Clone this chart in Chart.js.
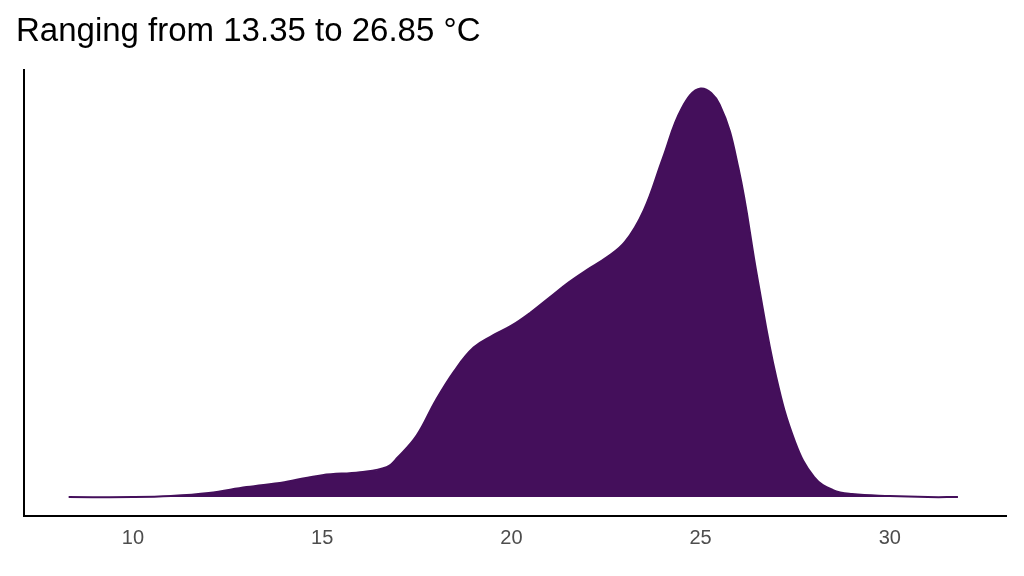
<!DOCTYPE html>
<html>
<head>
<meta charset="utf-8">
<script src="https://cdn.jsdelivr.net/npm/chart.js@4/dist/chart.umd.min.js"></script>
<style>
  html, body { margin: 0; padding: 0; background: #fff; }
  #wrap { width: 1024px; height: 576px; }
</style>
</head>
<body>
<div id="wrap"><canvas id="densityChart" width="1024" height="576"></canvas></div>
<script>
// temperature (°C) and estimated density (relative height)
const temps = [8.3, 10, 11, 12, 13, 14, 15, 16, 16.7, 17, 17.5, 18, 18.5, 19, 19.5, 20, 20.5, 21, 21.5, 22, 22.5, 23, 23.5, 24, 24.5, 25, 25.5, 26, 26.5, 27, 27.5, 28, 28.5, 29, 30, 31, 31.8];
const density = [0, 0, 1, 4, 10, 15, 22, 25, 30, 40, 62, 97, 127, 150, 162, 172, 185, 200, 215, 228, 240, 256, 288, 340, 390, 410, 394, 330, 220, 120, 55, 20, 7, 3, 1, 0, 0];
const xTicks = [10, 15, 20, 25, 30];

document.addEventListener("DOMContentLoaded", () => {
  const ctx = document.getElementById("densityChart").getContext("2d");
  new Chart(ctx, {
    type: "line",
    data: {
      datasets: [{
        data: temps.map((t, i) => ({ x: t, y: density[i] })),
        borderColor: "#440f5b",
        backgroundColor: "#440f5b",
        borderWidth: 2,
        fill: "origin",
        tension: 0.4,
        pointRadius: 0,
      }],
    },
    options: {
      responsive: false,
      animation: false,
      layout: { padding: { left: 16, right: 18, top: 0, bottom: 22 } },
      plugins: {
        legend: { display: false },
        tooltip: { enabled: false },
        title: {
          display: true,
          text: "Ranging from 13.35 to 26.85 °C",
          align: "start",
          color: "#000",
          font: { family: "Liberation Sans, Arial", size: 33, weight: "normal" },
          padding: { top: 12, bottom: 18 },
        },
      },
      scales: {
        x: {
          type: "linear",
          min: 7.12,
          max: 33.07,
          afterBuildTicks: axis => { axis.ticks = xTicks.map(v => ({ value: v })); },
          grid: { display: false, drawOnChartArea: false, drawTicks: true, tickLength: 6, tickColor: "#333" },
          border: { color: "#000", width: 2 },
          ticks: { color: "#4d4d4d", font: { family: "Liberation Sans, Arial", size: 20 }, padding: 4 },
        },
        y: {
          min: -19,
          max: 429,
          grid: { display: false },
          border: { color: "#000", width: 2 },
          ticks: { display: false },
        },
      },
    },
  });
});
</script>
</body>
</html>
